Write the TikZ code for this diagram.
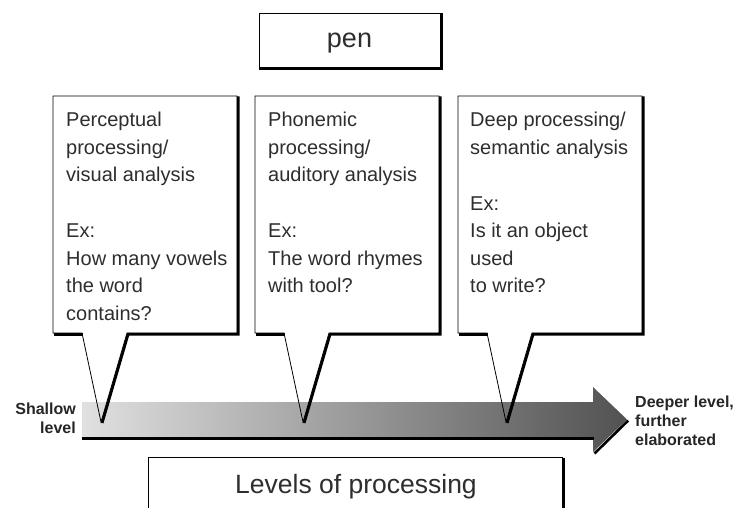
\documentclass[tikz,border=0pt]{standalone}
\usepackage{fontspec}
\setmainfont{Liberation Sans}
\usetikzlibrary{positioning}

\tikzset{
    balloon/.style={draw=black, line width=0.8pt, line join=miter},
    shadowline/.style={black, line width=2.6pt, line cap=butt, line join=miter},
    bubbletext/.style={anchor=north west, inner sep=0pt, align=left, text=black!82,
        font=\fontsize{20}{27.5}\selectfont},
    sidelabel/.style={inner sep=0pt, text=black!85, font=\bfseries\fontsize{16}{19}\selectfont},
}

\begin{document}
\begin{tikzpicture}[x=1pt, y=-1pt]
            \fill[white] (0,0) rectangle (739,508);
            \useasboundingbox (0,0) rectangle (739,508);
            \clip (0,0) rectangle (739,508);

            % the word on top
            \node[draw, line width=0.8pt, minimum width=181pt, minimum height=54pt,
                inner sep=0pt, text depth=0pt, text=black!82, font=\fontsize{27}{30}\selectfont]
                (pen) at (349.5,40) {pen};
            \draw[shadowline] ([shift={(1.2,0.5)}]pen.north east)
                -- ([shift={(1.2,1.2)}]pen.south east) -- ([shift={(0.5,1.2)}]pen.south west);

            % processing arrow
            \shade[left color=black!12, right color=black!68]
                (82,402) -- (593,402) -- (593,387) -- (627,419.5) -- (593,452)
                -- (593,437) -- (82,437) -- cycle;
            \draw[shadowline] (82,438.5) -- (594,438.5);
            \draw[shadowline] (628.2,420.5) -- (594.5,453.5);

            % speech balloons
            \foreach \x in {53, 255, 458}
                {
                    \draw[balloon] (\x,96) -- (\x+184,96) -- (\x+184,333) -- (\x+74,333)
                        -- (\x+48,422) -- (\x+29,333) -- (\x,333) -- cycle;
                    \draw[shadowline] (\x+185.2,96.5) -- (\x+185.2,334.2) -- (\x+75.2,334.2)
                        -- (\x+49.2,423);
                    \draw[shadowline] (\x+0.5,334.2) -- (\x+29.6,334.2);
                }

            \node[bubbletext] (perc) at (66,112) {Perceptual\\processing/\\visual analysis\\[28.5pt]Ex:\\How many vowels\\the word\\contains?};
            \node[bubbletext] (phon) at (268,112) {Phonemic\\processing/\\auditory analysis\\[28.5pt]Ex:\\The word rhymes\\with tool?};
            \node[bubbletext] (deep) at (470,112) {Deep processing/\\semantic analysis\\[28.5pt]Ex:\\Is it an object\\used\\to write?};

            % ends of the arrow
            \node[sidelabel, anchor=east, align=right] (shallow) at (76,418.5) {Shallow\\level};
            \node[sidelabel, anchor=west, align=left] (deeper) at (635,421) {Deeper level,\\further\\elaborated};

            % caption box
            \draw[balloon] (148,520) -- (148,457) -- (562,457) -- (562,520);
            \draw[shadowline] (563.2,457.5) -- (563.2,520);
            \node[inner sep=0pt, anchor=base, text=black!82, font=\fontsize{26.5}{30}\selectfont]
                (levels) at (356,493) {Levels of processing};
\end{tikzpicture}
\end{document}
